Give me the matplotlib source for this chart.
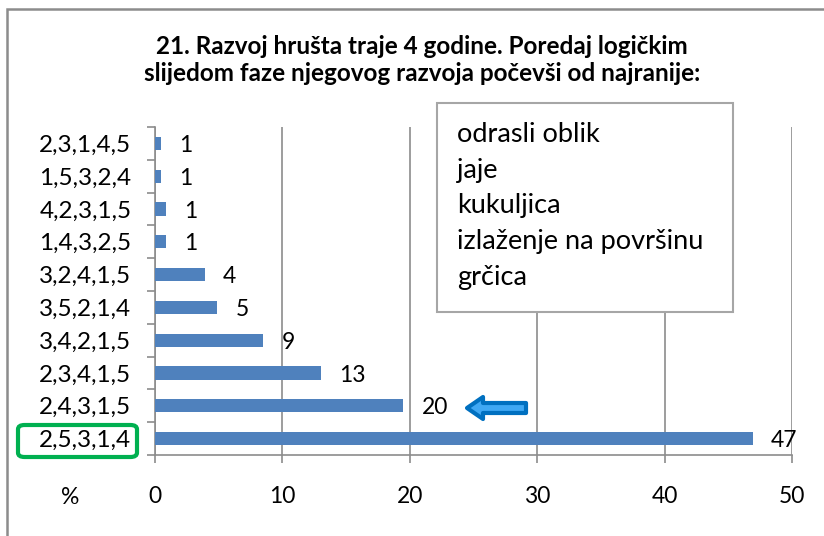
import matplotlib.pyplot as plt
from matplotlib.patches import Rectangle, FancyBboxPatch, FancyArrow

plt.rcParams['font.family'] = ['Lato', 'DejaVu Sans']

# categories from top to bottom, as in the picture
orders = ["2,3,1,4,5", "1,5,3,2,4", "4,2,3,1,5", "1,4,3,2,5", "3,2,4,1,5",
          "3,5,2,1,4", "3,4,2,1,5", "2,3,4,1,5", "2,4,3,1,5", "2,5,3,1,4"]
percent = [0.5, 0.5, 0.9, 0.9, 3.9, 4.9, 8.5, 13.0, 19.5, 46.9]
labels = ["1", "1", "1", "1", "4", "5", "9", "13", "20", "47"]
phases = ["odrasli oblik", "jaje", "kukuljica", "izlaženje na površinu", "grčica"]
xticks = [0, 10, 20, 30, 40, 50]

W, H = 824, 536
fig = plt.figure(figsize=(W / 100, H / 100), dpi=100)

# outer chart border (only left/top are inside the image)
fig.patches.append(Rectangle((7 / W, -0.1), 1.2, 1.1 - 9 / H, transform=fig.transFigure,
                             fill=False, edgecolor="#8c8c8c", linewidth=1.8))

ax = fig.add_axes([155 / W, 81 / H, 637 / W, 328 / H])
ypos = list(range(len(orders)))[::-1]
ax.barh(ypos, percent, height=0.4, color="#4F81BD", zorder=3)
for y, v, lab in zip(ypos, percent, labels):
    ax.annotate(lab, (v, y), xytext=(13, -1.5), textcoords="offset points",
                ha="left", va="center", fontsize=16.5)

ax.set_xlim(0, 50)
ax.set_ylim(-0.5, len(orders) - 0.5)
ax.set_xticks(xticks)
ax.set_xticklabels([str(t) for t in xticks], fontsize=16.5)
ax.set_yticks(ypos)
ax.set_yticklabels(orders, fontsize=17.5)
ax.set_yticks([i - 0.5 for i in range(len(orders) + 1)], minor=True)
ax.tick_params(axis="y", which="major", length=0, pad=17)
ax.tick_params(axis="y", which="minor", length=6, color="#8c8c8c", width=1.2)
ax.tick_params(axis="x", length=6, color="#8c8c8c", width=1.2, pad=16)
ax.grid(axis="x", color="#8c8c8c", linewidth=1.2, zorder=0)
for s in ["top", "right"]:
    ax.spines[s].set_visible(False)
for s in ["left", "bottom"]:
    ax.spines[s].set_color("#8c8c8c")
    ax.spines[s].set_linewidth(1.2)

fig.text(70 / W, 1 - 497 / H, "%", ha="center", va="center", fontsize=16.5)

fig.text(422 / W, 1 - 60 / H,
         "21. Razvoj hrušta traje 4 godine. Poredaj logičkim\nslijedom faze njegovog razvoja počevši od najranije:",
         ha="center", va="center", fontsize=17.5, fontweight="bold", linespacing=1.25)

# legend-like box with phases
fig.patches.append(Rectangle((437 / W, 1 - 312 / H), 296 / W, 209 / H, transform=fig.transFigure,
                             facecolor="white", edgecolor="#a6a6a6", linewidth=1.5, zorder=5))
for i, p in enumerate(phases):
    fig.text(457 / W, 1 - (142 + i * 35.75) / H, p, ha="left", va="baseline",
             fontsize=19.5, zorder=6)

# green highlight round the winning answer
fig.patches.append(FancyBboxPatch((18 / W, 1 - 457 / H), 119 / W, 32 / H,
                                  boxstyle="round,pad=0,rounding_size=0.008",
                                  transform=fig.transFigure, fill=False,
                                  edgecolor="#00B050", linewidth=3, zorder=6))

# blue arrow pointing at the 20 % bar
fig.patches.append(FancyArrow(526 / W, 1 - 408 / H, -59 / W, 0, width=10 / H,
                              head_width=22 / H, head_length=16 / W,
                              length_includes_head=True, transform=fig.transFigure,
                              facecolor="#3FA8F4", edgecolor="#0070C0", linewidth=3,
                              joinstyle="round", zorder=6))

fig.savefig("out.png", dpi=100)
